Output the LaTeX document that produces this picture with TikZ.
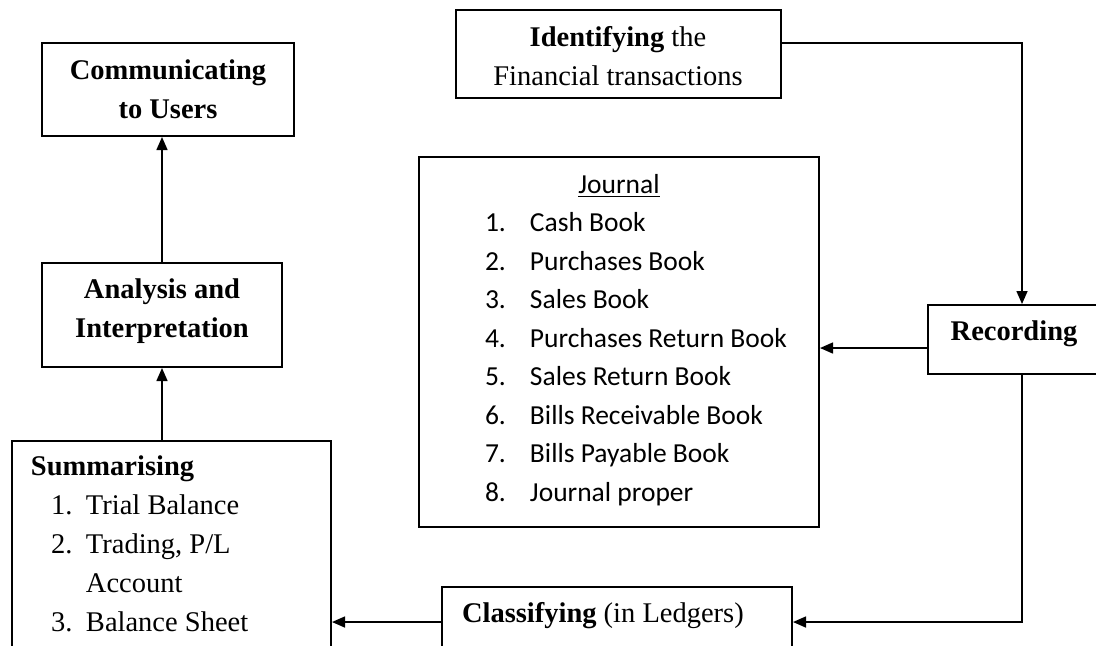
\documentclass[tikz,border=0pt]{standalone}
\usepackage{fontspec}
\setmainfont{Liberation Serif}
\setsansfont{Carlito}
\usetikzlibrary{arrows.meta}
\newcommand{\bookline}[2]{\hspace*{33pt}\makebox[22.5pt][l]{#1}#2}
\newcommand{\sumline}[2]{\hspace*{10pt}\makebox[17.5pt][l]{#1}#2}

\begin{document}
\begin{tikzpicture}[x=0.5pt, y=-0.5pt, >={Triangle[length=6.5pt,width=5.5pt]},
    box/.style={draw, line width=1pt, inner sep=0pt, font=\fontsize{14.25}{19.25}\selectfont},
    flow/.style={->, line width=0.75pt}]
  \useasboundingbox (0,0) rectangle (1096,645);
  \clip (0,0) rectangle (1096,645);

  % Boxes (placed at a text baseline)
  \node[box, anchor=base, align=center, minimum width=126pt, text height=37.5pt, text depth=9pt] (communicate) at (168,118) {\textbf{Communicating}\\\textbf{to Users}};
  \node[box, anchor=base, align=center, minimum width=120pt, text height=37pt, text depth=15pt] (analysis) at (162,337) {\textbf{Analysis and}\\\textbf{Interpretation}};
  \node[box, anchor=base west, align=flush left, inner xsep=9.5pt, text width=140.5pt, text height=17pt, text depth=110pt, font=\fontsize{14.25}{19.5}\selectfont] (summarise) at (11,475)
    {\textbf{Summarising}\\\sumline{1.}{Trial Balance}\\\sumline{2.}{Trading, P/L}\\\sumline{}{Account}\\\sumline{3.}{Balance Sheet}};
  \node[box, anchor=base, align=center, minimum width=162.5pt, text height=37.5pt, text depth=6.5pt] (identify) at (618,85) {\textbf{Identifying} the\\Financial transactions};
  \node[box, anchor=base west, align=flush left, text width=200pt, text height=18pt, text depth=167pt, font=\sffamily\fontsize{13.75}{19.25}\selectfont] (journal) at (418,193)
    {\makebox[200pt][c]{\underline{Journal}}\\
     \bookline{1.}{Cash Book}\\
     \bookline{2.}{Purchases Book}\\
     \bookline{3.}{Sales Book}\\
     \bookline{4.}{Purchases Return Book}\\
     \bookline{5.}{Sales Return Book}\\
     \bookline{6.}{Bills Receivable Book}\\
     \bookline{7.}{Bills Payable Book}\\
     \bookline{8.}{Journal proper}};
  \node[box, anchor=base, minimum width=86pt, text height=17.5pt, text depth=17pt] (record) at (1014,340) {\textbf{Recording}};
  \node[box, anchor=base west, align=flush left, inner xsep=10pt, text width=155pt, text height=17.5pt, text depth=40pt] (classify) at (441,622) {\textbf{Classifying} (in Ledgers)};

  % Connectors
  \coordinate (riser) at (1022,43);
  \draw[flow] ([yshift=5.5pt]identify.east) -- (riser) -- (riser |- record.north);
  \draw[flow] ([yshift=-4.25pt]record.west) -- ([yshift=-4.25pt]record.west -| journal.east);
  \draw[flow] (riser |- record.south) |- (classify.base east);
  \draw[flow] (classify.base west) -- (classify.base west -| summarise.east);
  \draw[flow] (summarise.north -| analysis.south) -- (analysis.south);
  \draw[flow] (analysis.north) -- (analysis.north |- communicate.south);
\end{tikzpicture}
\end{document}
